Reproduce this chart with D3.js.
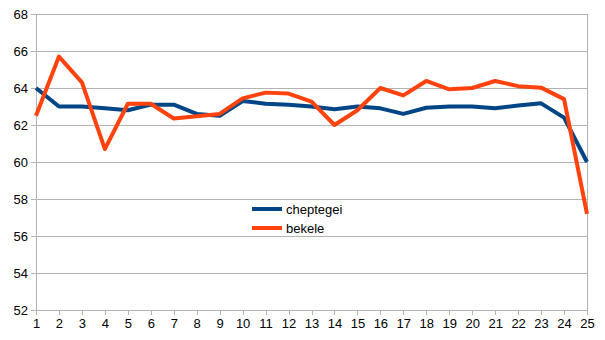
<!DOCTYPE html>
<html>
<head>
<meta charset="utf-8">
<script src="https://cdn.jsdelivr.net/npm/d3@7"></script>
<style>
  html, body { margin: 0; padding: 0; background: #fff; }
  svg { display: block; font-family: "Liberation Sans", Arial, sans-serif; }
</style>
</head>
<body>
<svg id="chart" width="605" height="340"></svg>
<script>
// Lap numbers on the x axis
const laps = d3.range(1, 26);
// Series values per lap
const cheptegei = [64.0, 63.0, 63.0, 62.9, 62.8, 63.1, 63.1, 62.6, 62.5, 63.3, 63.15, 63.1, 63.0, 62.85, 63.0, 62.9, 62.6, 62.93, 63.0, 63.0, 62.9, 63.05, 63.17, 62.4, 60.0];
const bekele    = [62.5, 65.7, 64.3, 60.7, 63.15, 63.15, 62.35, 62.47, 62.6, 63.44, 63.75, 63.7, 63.26, 62.0, 62.8, 64.0, 63.6, 64.38, 63.93, 64.0, 64.38, 64.1, 64.02, 63.4, 57.2];
// Y axis ticks
const yTicks = [52, 54, 56, 58, 60, 62, 64, 66, 68];

const series = [
  { name: "cheptegei", values: cheptegei, color: "#004586" },
  { name: "bekele", values: bekele, color: "#ff420e" }
];

const svg = d3.select("#chart");
const plotLeft = 36, plotRight = 587, plotTop = 14, plotBottom = 310;
const grid = "#b3b3b3";

const x = d3.scaleLinear().domain([1, 25]).range([plotLeft, plotRight]);
const y = d3.scaleLinear().domain([52, 68]).range([plotBottom, plotTop]);

// Horizontal grid lines
svg.append("g")
  .selectAll("line")
  .data(yTicks)
  .join("line")
  .attr("x1", plotLeft).attr("x2", plotRight)
  .attr("y1", d => y(d)).attr("y2", d => y(d))
  .attr("stroke", grid).attr("stroke-width", 1)
  .attr("shape-rendering", "crispEdges");

// Right border
svg.append("line")
  .attr("x1", plotRight).attr("x2", plotRight)
  .attr("y1", plotTop).attr("y2", plotBottom)
  .attr("stroke", grid).attr("shape-rendering", "crispEdges");

// Y axis
const yAxis = svg.append("g")
  .attr("transform", `translate(${plotLeft},0)`)
  .call(d3.axisLeft(y).tickValues(yTicks).tickSize(5).tickPadding(3).tickFormat(d3.format("d")));
// X axis
const xAxis = svg.append("g")
  .attr("transform", `translate(0,${plotBottom})`)
  .call(d3.axisBottom(x).tickValues(laps).tickSize(5).tickPadding(4).tickFormat(d3.format("d")));

[yAxis, xAxis].forEach(g => {
  g.select(".domain").attr("stroke", grid).attr("shape-rendering", "crispEdges");
  g.selectAll(".tick line").attr("stroke", grid).attr("shape-rendering", "crispEdges");
  g.selectAll("text")
    .attr("fill", "#000")
    .style("font-size", "13px")
    .style("font-family", "'Liberation Sans', Arial, sans-serif");
});
yAxis.select(".domain").attr("d", `M0,${plotBottom + 5}V${plotTop}`);
xAxis.select(".domain").attr("d", `M${plotLeft},0H${plotRight}`);

// Series lines
const line = d3.line()
  .x((d, i) => x(laps[i]))
  .y(d => y(d));

svg.append("g")
  .selectAll("path")
  .data(series)
  .join("path")
  .attr("d", d => line(d.values))
  .attr("fill", "none")
  .attr("stroke", d => d.color)
  .attr("stroke-width", 4)
  .attr("stroke-linejoin", "round");

// Legend
const legend = svg.append("g").attr("transform", "translate(252,209)");
const item = legend.selectAll("g")
  .data(series)
  .join("g")
  .attr("transform", (d, i) => `translate(0,${i * 19})`);
item.append("line")
  .attr("x1", 0).attr("x2", 30)
  .attr("stroke", d => d.color).attr("stroke-width", 4);
item.append("text")
  .attr("x", 34).attr("dy", "0.35em")
  .style("font-size", "13px")
  .attr("fill", "#000")
  .text(d => d.name);
</script>
</body>
</html>
